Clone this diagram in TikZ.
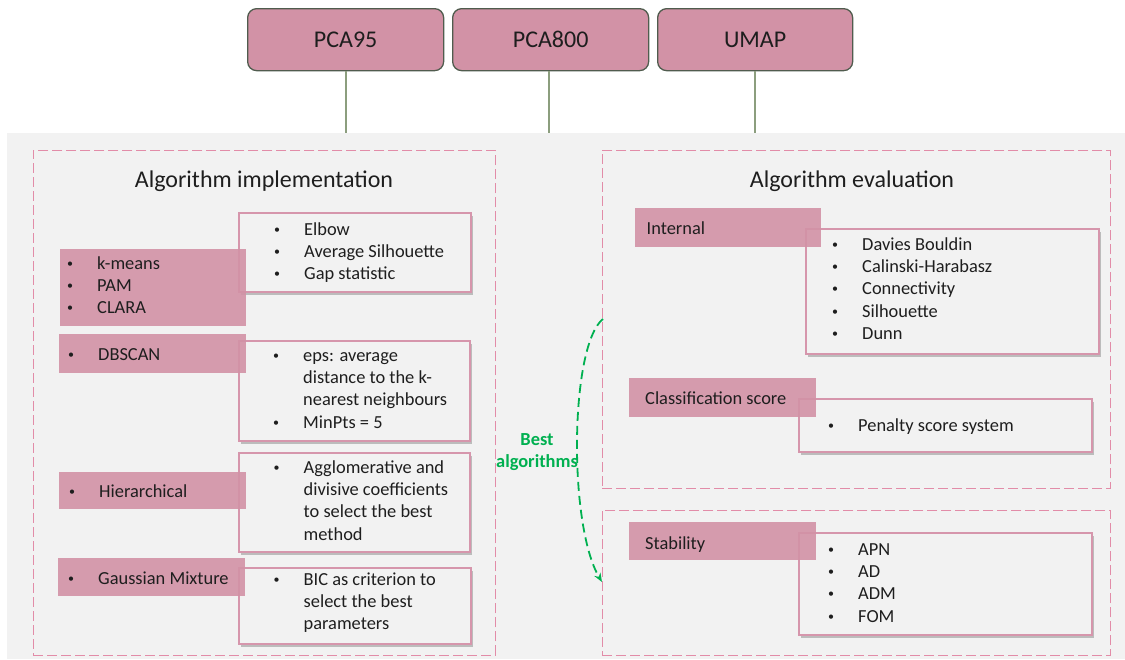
\documentclass[tikz,border=0pt]{standalone}
\usepackage{fontspec}
\setmainfont{Carlito}
\usetikzlibrary{shadows,arrows.meta}
\definecolor{pinkfill}{RGB}{210,146,166}
\definecolor{pinkline}{RGB}{214,150,172}
\definecolor{dashpink}{RGB}{226,140,168}
\definecolor{bggray}{RGB}{242,242,242}
\definecolor{topline}{RGB}{80,92,78}
\definecolor{conn}{RGB}{140,158,126}
\definecolor{bestgreen}{RGB}{0,176,80}
\definecolor{txt}{RGB}{30,30,30}
\newcommand\bodyfont{\fontsize{18.4}{22.4}\selectfont}
\newcommand\blt{\raisebox{2pt}{\fontsize{12}{12}\selectfont\textbullet}}
\begin{document}
\begin{tikzpicture}[x=1pt,y=-1pt,
  topbox/.style={draw=topline, line width=1.3pt, fill=pinkfill, rounded corners=9pt, anchor=north west, inner sep=0pt, minimum height=62pt, font=\fontsize{24}{28}\selectfont, text=txt},
  dashbox/.style={draw=dashpink, line width=0.9pt, dash pattern=on 10pt off 4pt, anchor=north west, inner sep=0pt},
  outbox/.style={draw=pinkline, line width=2pt, fill=bggray, anchor=north west, inner sep=0pt, drop shadow={shadow xshift=2pt, shadow yshift=-2.5pt, opacity=0.22, fill=black}},
  pinkbox/.style={fill=pinkfill, fill opacity=0.9, anchor=north west, inner sep=0pt},
  lst/.style={anchor=base west, inner sep=0pt, text=txt, font=\bodyfont},
  ttl/.style={inner sep=0pt, text=txt, font=\fontsize{24}{28}\selectfont},
  conline/.style={draw=conn, line width=1.8pt}]
\useasboundingbox (0,0) rectangle (1125,659);
% background
\node[fill=bggray, anchor=north west, inner sep=0pt, minimum width=1118pt, minimum height=526pt] (bg) at (7,133) {};
% top boxes
\node[topbox, minimum width=196pt] (pca95) at (247,8) {PCA95};
\node[topbox, minimum width=196pt] (pca800) at (452,8) {PCA800};
\node[topbox, minimum width=195pt] (umap) at (657,8) {UMAP};
\draw[conline] (pca95.south) -- (pca95.south |- bg.north);
\draw[conline] ([xshift=-2pt]pca800.south) -- ([xshift=-2pt]pca800.south |- bg.north);
\draw[conline] (umap.south) -- (umap.south |- bg.north);
% dashed groups
\node[dashbox, minimum width=462pt, minimum height=505pt] (impl) at (33,150) {};
\node[dashbox, minimum width=508pt, minimum height=338pt] (evalA) at (602,150) {};
\node[dashbox, minimum width=508pt, minimum height=145pt] (evalB) at (602,510) {};
\node[ttl] (t1) at (264,181) {Algorithm implementation};
\node[ttl] (t2) at (852,181) {Algorithm evaluation};
% outline boxes
\node[outbox, minimum width=232.5pt, minimum height=79pt] (ob1) at (237.5,212) {};
\node[outbox, minimum width=231pt, minimum height=100pt] (ob2) at (238,340) {};
\node[outbox, minimum width=231.5pt, minimum height=99pt] (ob3) at (237.5,452) {};
\node[outbox, minimum width=232pt, minimum height=76pt] (ob4) at (238,567) {};
\node[outbox, minimum width=293pt, minimum height=125pt] (ob5) at (805,228) {};
\node[outbox, minimum width=293pt, minimum height=53pt] (ob6) at (798,398) {};
\node[outbox, minimum width=293pt, minimum height=102pt] (ob7) at (798,532) {};
% pink boxes
\node[pinkbox, minimum width=186.5pt, minimum height=77pt] (pb1) at (59.5,249) {};
\node[pinkbox, minimum width=187pt, minimum height=39pt] (pb2) at (59,334) {};
\node[pinkbox, minimum width=187pt, minimum height=37pt] (pb3) at (59,472) {};
\node[pinkbox, minimum width=187pt, minimum height=38pt] (pb4) at (58,558) {};
\node[pinkbox, minimum width=186pt, minimum height=39pt] (pb5) at (635,208) {};
\node[pinkbox, minimum width=187pt, minimum height=39pt] (pb6) at (628.5,378) {};
\node[pinkbox, minimum width=187pt, minimum height=38pt] (pb7) at (628.5,522) {};
% lists
\node[lst] (l1) at (274,235) {\begin{tabular}[t]{@{}p{30pt}@{}l@{}}\blt & Elbow\\ \blt & Average Silhouette\\ \blt & Gap statistic\end{tabular}};
\node[lst] (l2) at (67,269) {\begin{tabular}[t]{@{}p{30pt}@{}l@{}}\blt & k-means\\ \blt & PAM\\ \blt & CLARA\end{tabular}};
\node[lst] (l3) at (68,360) {\begin{tabular}[t]{@{}p{30pt}@{}l@{}}\blt & DBSCAN\end{tabular}};
\node[lst] (l4) at (273,361) {\begin{tabular}[t]{@{}p{30pt}@{}l@{}}\blt & eps: average\\ & distance to the k-\\ & nearest neighbours\\ \blt & MinPts = 5\end{tabular}};
\node[lst] (l5) at (69,497) {\begin{tabular}[t]{@{}p{30pt}@{}l@{}}\blt & Hierarchical\end{tabular}};
\node[lst] (l6) at (273.5,473) {\begin{tabular}[t]{@{}p{30pt}@{}l@{}}\blt & Agglomerative and\\ & divisive coefficients\\ & to select the best\\ & method\end{tabular}};
\node[lst] (l7) at (68,584) {\begin{tabular}[t]{@{}p{30pt}@{}l@{}}\blt & Gaussian Mixture\end{tabular}};
\node[lst] (l8) at (273.5,585) {\begin{tabular}[t]{@{}p{30pt}@{}l@{}}\blt & BIC as criterion to\\ & select the best\\ & parameters\end{tabular}};
\node[lst] (r1) at (646.5,234) {Internal};
\node[lst] (r2) at (832,250) {\begin{tabular}[t]{@{}p{30pt}@{}l@{}}\blt & Davies Bouldin\\ \blt & Calinski-Harabasz\\ \blt & Connectivity\\ \blt & Silhouette\\ \blt & Dunn\end{tabular}};
\node[lst] (r3) at (645,404) {Classification score};
\node[lst] (r4) at (828,431) {\begin{tabular}[t]{@{}p{30pt}@{}l@{}}\blt & Penalty score system\end{tabular}};
\node[lst] (r5) at (645,549) {Stability};
\node[lst] (r6) at (828,555) {\begin{tabular}[t]{@{}p{30pt}@{}l@{}}\blt & APN\\ \blt & AD\\ \blt & ADM\\ \blt & FOM\end{tabular}};
% best algorithms arrow
\coordinate (as) at (603,319);
\coordinate (ae) at (602,582);
\draw[bestgreen, line width=1.8pt, dash pattern=on 9pt off 5pt, -{Stealth[length=9pt,width=7pt]}] (as) .. controls (570,345) and (568,525) .. (ae);
\node[font=\bfseries\fontsize{18.4}{22}\selectfont, text=bestgreen, align=center, inner sep=0pt] (best) at (537,452) {Best\\algorithms};
\end{tikzpicture}
\end{document}
